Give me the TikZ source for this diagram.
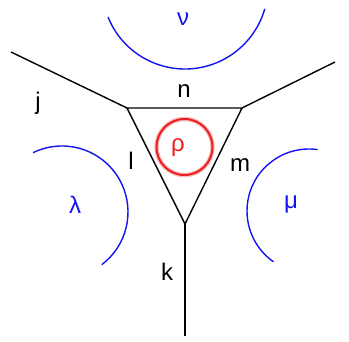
\documentclass[tikz,border=0pt]{standalone}
\usepackage{fontspec}
\setmainfont{Liberation Sans}
\usepackage{xcolor}
\usepackage{tikz}
\definecolor{arcblue}{RGB}{20,20,240}
\definecolor{loopred}{RGB}{235,30,30}

\begin{document}
\begin{tikzpicture}[x=1pt, y=1pt,
  edge/.style={draw=black, line width=1.4pt},
  face/.style={draw=arcblue, line width=1.4pt},
  lbl/.style={inner sep=0pt, font=\fontsize{24}{28}\selectfont},
  glbl/.style={lbl, text=arcblue},
  rlbl/.style={lbl, text=loopred}]
\useasboundingbox (0,0) rectangle (349,341);
% vertices of the triangle and free ends
\coordinate (vl) at (127,233);
\coordinate (vr) at (242,233);
\coordinate (vb) at (185,117);
\coordinate (ej) at (11,289);
\coordinate (er) at (335,279);
\coordinate (ek) at (185,5);
% centres of the arcs
\coordinate (cnu)  at (185,355);
\coordinate (clam) at (62,129);
\coordinate (cmu)  at (309,130);
\coordinate (crho) at (184.5,194);
% edges
\draw[edge] (vl)--(vr)--(vb)--cycle;
\draw[edge] (vl)--(ej);
\draw[edge] (vr)--(er);
\draw[edge] (vb)--(ek);
% faces
\draw[face] ([shift={(202:83)}]cnu) arc[start angle=202, end angle=344, radius=83];
\draw[face] ([shift={(116:66)}]clam) arc[start angle=116, end angle=-53, radius=66];
\draw[face] ([shift={(82:62)}]cmu) arc[start angle=82, end angle=235, radius=62];
\draw[loopred!30, line width=4.5pt] (crho) circle[radius=28];
\draw[loopred, line width=2pt] (crho) circle[radius=28];
% labels
\node[glbl] (nu)  at (183,322) {ν};
\node[glbl] (lam) at (75,136)  {λ};
\node[glbl] (mu)  at (291,137) {μ};
\node[rlbl] (rho) at (178,193) {ρ};
\node[lbl] (n) at (184,250) {n};
\node[lbl] (j) at (38,238)  {j};
\node[lbl] (l) at (131,180) {l};
\node[lbl] (m) at (240,176) {m};
\node[lbl] (k) at (167,69)  {k};
\end{tikzpicture}
\end{document}
